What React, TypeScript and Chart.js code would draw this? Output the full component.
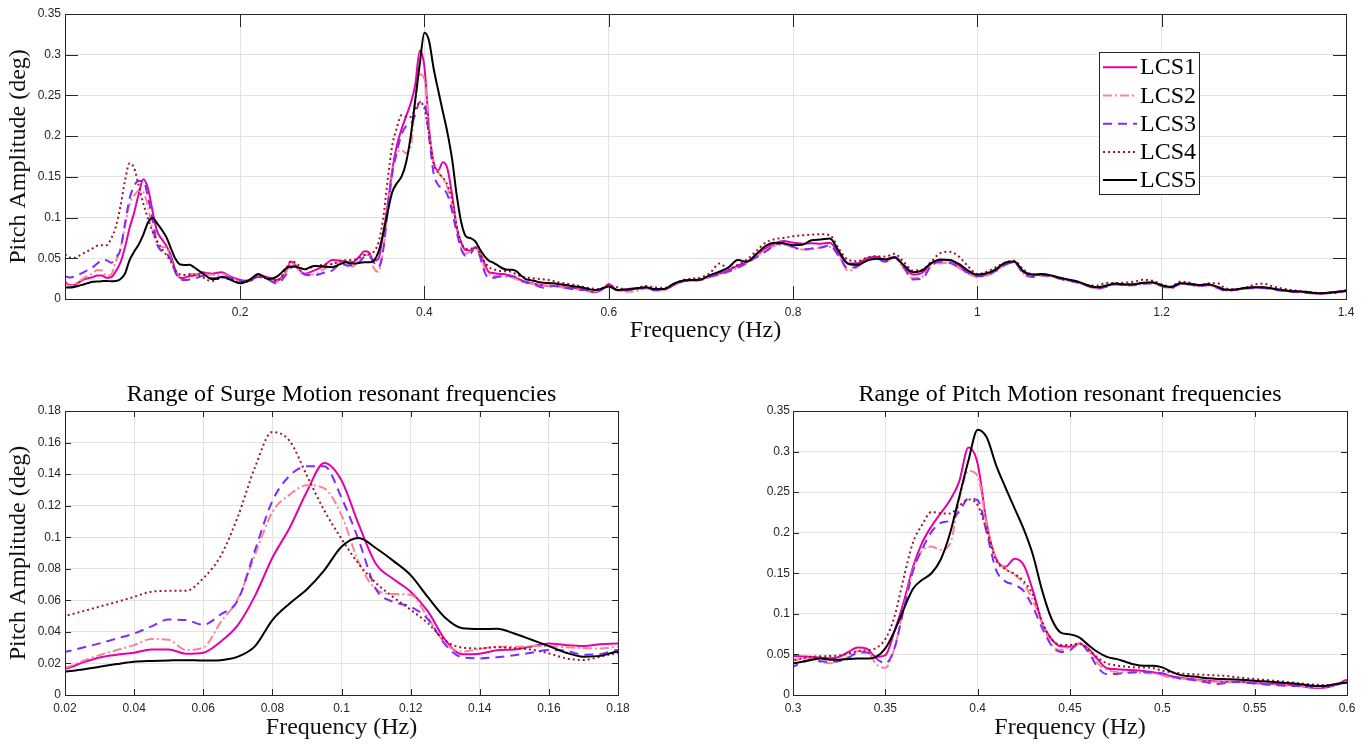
import React, { useEffect, useRef } from "react";
import { Chart, registerables } from "chart.js";

Chart.register(...registerables);

// ---------------- data ----------------
const FREQ = [
  0.01, 0.015,
  0.02, 0.025, 0.03, 0.035, 0.04, 0.045, 0.05, 0.055, 0.06, 0.065,
  0.07, 0.075, 0.08, 0.085, 0.09, 0.095, 0.1, 0.105, 0.11, 0.115,
  0.12, 0.125, 0.13, 0.135, 0.14, 0.145, 0.15, 0.155, 0.16, 0.165,
  0.17, 0.175, 0.18,
  0.19, 0.2, 0.21, 0.22, 0.23, 0.24, 0.25, 0.255, 0.26, 0.27, 0.28, 0.29,
  0.3, 0.305, 0.31, 0.315, 0.32, 0.325, 0.33, 0.335, 0.34, 0.345,
  0.35, 0.355, 0.36, 0.365, 0.37, 0.375, 0.38, 0.385, 0.39, 0.395,
  0.4, 0.405, 0.41, 0.415, 0.42, 0.425, 0.43, 0.435, 0.44, 0.445,
  0.45, 0.455, 0.46, 0.465, 0.47, 0.475, 0.48, 0.485, 0.49, 0.495,
  0.5, 0.505, 0.51, 0.515, 0.52, 0.525, 0.53, 0.535, 0.54, 0.545,
  0.55, 0.555, 0.56, 0.565, 0.57, 0.575, 0.58, 0.585, 0.59, 0.595,
  0.6,
  0.61, 0.62, 0.63, 0.64, 0.65, 0.66, 0.67, 0.68, 0.69, 0.7,
  0.71, 0.72, 0.73, 0.74, 0.75, 0.76, 0.77, 0.78, 0.79, 0.8,
  0.81, 0.82, 0.83, 0.84, 0.85, 0.86, 0.87, 0.88, 0.89, 0.9,
  0.91, 0.92, 0.93, 0.94, 0.95, 0.96, 0.97, 0.98, 0.99, 1.0,
  1.01, 1.02, 1.03, 1.04, 1.05, 1.06, 1.07, 1.08, 1.09, 1.1,
  1.11, 1.12, 1.13, 1.14, 1.15, 1.16, 1.17, 1.18, 1.19, 1.2,
  1.21, 1.22, 1.23, 1.24, 1.25, 1.26, 1.27, 1.28, 1.29, 1.3,
  1.31, 1.32, 1.33, 1.34, 1.35, 1.36, 1.37, 1.38, 1.39, 1.4,
];

const LCS1 = [
  0.021, 0.017,
  0.0169, 0.0205, 0.0238, 0.0255, 0.0268, 0.0288, 0.0289, 0.0262, 0.0268, 0.0338,
  0.0443, 0.063, 0.087, 0.106, 0.129, 0.147, 0.136, 0.108, 0.083, 0.0735,
  0.0655, 0.053, 0.035, 0.0258, 0.0262, 0.0283, 0.0289, 0.0308, 0.0327, 0.0316,
  0.031, 0.0322, 0.0327,
  0.0275, 0.0234, 0.0221, 0.0295, 0.0266, 0.0234, 0.0336, 0.046, 0.0418, 0.031, 0.0348, 0.04,
  0.048, 0.0475, 0.047, 0.0458, 0.0452, 0.047, 0.053, 0.0585, 0.057, 0.047,
  0.049, 0.079, 0.115, 0.158, 0.188, 0.208, 0.224, 0.24, 0.263, 0.305,
  0.285, 0.21, 0.168, 0.158, 0.168, 0.16, 0.128, 0.088, 0.069, 0.06,
  0.0595, 0.0635, 0.057, 0.044, 0.033, 0.0318, 0.031, 0.0306, 0.0295, 0.028,
  0.0255, 0.0232, 0.0212, 0.0198, 0.0185, 0.0175, 0.0166, 0.0164, 0.0164, 0.0158,
  0.0148, 0.0142, 0.0138, 0.0133, 0.0122, 0.011, 0.0092, 0.0085, 0.0098, 0.0135,
  0.0185,
  0.0105, 0.012, 0.0135, 0.0138, 0.0115, 0.012, 0.0175, 0.022, 0.023, 0.024,
  0.028, 0.031, 0.0355, 0.041, 0.0455, 0.0535, 0.062, 0.068, 0.0712, 0.069,
  0.068, 0.0685, 0.068, 0.069, 0.055, 0.0437, 0.044, 0.0498, 0.0518, 0.0486,
  0.0515, 0.041, 0.03, 0.032, 0.0437, 0.0478, 0.0475, 0.041, 0.033, 0.029,
  0.03, 0.0355, 0.043, 0.0455, 0.033, 0.029, 0.03, 0.0285, 0.0255, 0.023,
  0.0205, 0.0165, 0.0135, 0.016, 0.0185, 0.0175, 0.0178, 0.0198, 0.02, 0.0165,
  0.0142, 0.019, 0.0185, 0.0168, 0.0178, 0.0148, 0.011, 0.0115, 0.0133, 0.014,
  0.0142, 0.0125, 0.011, 0.0095, 0.0088, 0.0078, 0.0068, 0.0075, 0.0086, 0.0098,
];

const LCS2 = [
  0.019, 0.016,
  0.0173, 0.0215, 0.0253, 0.0285, 0.0316, 0.0355, 0.035, 0.0285, 0.03, 0.046,
  0.061, 0.089, 0.116, 0.127, 0.133, 0.131, 0.114, 0.084, 0.067, 0.064,
  0.0635, 0.049, 0.0327, 0.0275, 0.0292, 0.0306, 0.0306, 0.031, 0.031, 0.0302,
  0.0297, 0.0295, 0.0306,
  0.027, 0.021, 0.024, 0.028, 0.025, 0.021, 0.033, 0.045, 0.04, 0.03, 0.03, 0.036,
  0.043, 0.0445, 0.045, 0.041, 0.039, 0.042, 0.047, 0.054, 0.054, 0.038,
  0.0335, 0.058, 0.108, 0.155, 0.178, 0.183, 0.179, 0.186, 0.241, 0.276,
  0.27, 0.208, 0.168, 0.156, 0.148, 0.137, 0.116, 0.088, 0.062, 0.0555,
  0.0595, 0.0635, 0.055, 0.039, 0.031, 0.0285, 0.0278, 0.0275, 0.027, 0.0266,
  0.024, 0.0215, 0.0203, 0.019, 0.0178, 0.0168, 0.0164, 0.0164, 0.0162, 0.0153,
  0.0142, 0.0133, 0.0124, 0.0119, 0.0115, 0.0107, 0.0097, 0.0096, 0.011, 0.0135,
  0.0164,
  0.0105, 0.009, 0.0095, 0.013, 0.0115, 0.011, 0.016, 0.0215, 0.0225, 0.0232,
  0.027, 0.03, 0.0335, 0.038, 0.044, 0.052, 0.06, 0.0655, 0.0665, 0.0633,
  0.0608, 0.061, 0.0633, 0.064, 0.052, 0.0345, 0.0396, 0.0478, 0.049, 0.0465,
  0.0502, 0.038, 0.0255, 0.0273, 0.0416, 0.0437, 0.0445, 0.038, 0.031, 0.0273,
  0.0285, 0.034, 0.042, 0.0445, 0.031, 0.028, 0.0295, 0.028, 0.025, 0.0225,
  0.02, 0.016, 0.0128, 0.0155, 0.018, 0.017, 0.0172, 0.019, 0.0192, 0.016,
  0.0135, 0.0185, 0.018, 0.016, 0.0172, 0.014, 0.0105, 0.011, 0.0128, 0.0135,
  0.0138, 0.012, 0.0105, 0.009, 0.0085, 0.0075, 0.0068, 0.0072, 0.0085, 0.0095,
];

const LCS3 = [
  0.028, 0.0265,
  0.0274, 0.03, 0.0327, 0.0358, 0.039, 0.0435, 0.0478, 0.0475, 0.0445, 0.051,
  0.06, 0.092, 0.123, 0.139, 0.145, 0.145, 0.125, 0.098, 0.067, 0.059,
  0.056, 0.048, 0.032, 0.0238, 0.0232, 0.024, 0.0252, 0.0268, 0.0285, 0.028,
  0.0255, 0.026, 0.0285,
  0.026, 0.022, 0.023, 0.027, 0.024, 0.019, 0.03, 0.038, 0.04, 0.03, 0.029, 0.032,
  0.035, 0.04, 0.043, 0.0415, 0.041, 0.042, 0.046, 0.052, 0.0525, 0.045,
  0.039, 0.058, 0.106, 0.153, 0.18, 0.201, 0.212, 0.2148, 0.226, 0.242,
  0.24, 0.199, 0.154, 0.14, 0.1358, 0.128, 0.108, 0.082, 0.061, 0.053,
  0.0554, 0.0632, 0.053, 0.034, 0.0258, 0.026, 0.0273, 0.028, 0.0285, 0.028,
  0.0267, 0.023, 0.0203, 0.019, 0.0172, 0.015, 0.0135, 0.015, 0.016, 0.0152,
  0.0143, 0.0133, 0.0123, 0.0117, 0.0111, 0.0111, 0.0111, 0.0111, 0.0111, 0.013,
  0.0164,
  0.0105, 0.011, 0.0125, 0.0135, 0.0105, 0.0112, 0.0168, 0.0215, 0.0225, 0.0235,
  0.0275, 0.03, 0.034, 0.0385, 0.0445, 0.051, 0.058, 0.066, 0.069, 0.064,
  0.0608, 0.062, 0.0633, 0.066, 0.052, 0.0376, 0.0405, 0.048, 0.05, 0.0457,
  0.052, 0.039, 0.024, 0.025, 0.041, 0.0457, 0.0445, 0.039, 0.032, 0.028,
  0.029, 0.0345, 0.042, 0.045, 0.031, 0.027, 0.029, 0.028, 0.0248, 0.0222,
  0.0198, 0.0158, 0.0125, 0.015, 0.018, 0.0168, 0.017, 0.0188, 0.0192, 0.0158,
  0.013, 0.0182, 0.0178, 0.0158, 0.017, 0.0138, 0.0102, 0.011, 0.0128, 0.0132,
  0.0135, 0.0118, 0.0102, 0.0088, 0.0083, 0.0072, 0.0065, 0.007, 0.0082, 0.0095,
];

const LCS4 = [
  0.055, 0.051,
  0.0506, 0.053, 0.056, 0.059, 0.0622, 0.0655, 0.066, 0.066, 0.074, 0.088,
  0.113, 0.1445, 0.1667, 0.161, 0.139, 0.117, 0.099, 0.083, 0.071, 0.062,
  0.054, 0.0455, 0.0345, 0.03, 0.0295, 0.0303, 0.0297, 0.0287, 0.0264, 0.0232,
  0.0222, 0.0243, 0.0264,
  0.024, 0.021, 0.022, 0.028, 0.025, 0.022, 0.038, 0.046, 0.045, 0.036, 0.04, 0.042,
  0.043, 0.045, 0.047, 0.0477, 0.048, 0.0487, 0.051, 0.054, 0.055, 0.058,
  0.069, 0.097, 0.145, 0.188, 0.21, 0.2256, 0.224, 0.2236, 0.233, 0.241,
  0.234, 0.202, 0.166, 0.155, 0.149, 0.14, 0.123, 0.09, 0.069, 0.0615,
  0.0616, 0.0635, 0.056, 0.046, 0.039, 0.0365, 0.035, 0.034, 0.034, 0.0332,
  0.03, 0.028, 0.0265, 0.0258, 0.0252, 0.0245, 0.024, 0.0234, 0.022, 0.0207,
  0.0196, 0.0187, 0.0177, 0.0167, 0.0155, 0.0143, 0.0132, 0.0126, 0.0123, 0.014,
  0.0164,
  0.0143, 0.011, 0.013, 0.016, 0.0145, 0.0135, 0.018, 0.0232, 0.025, 0.0265,
  0.032, 0.0435, 0.0378, 0.042, 0.0485, 0.059, 0.069, 0.0735, 0.075, 0.0771,
  0.0782, 0.079, 0.0796, 0.0784, 0.061, 0.048, 0.0465, 0.051, 0.0525, 0.052,
  0.0555, 0.0457, 0.035, 0.036, 0.046, 0.0565, 0.058, 0.052, 0.04, 0.0305,
  0.0336, 0.039, 0.0447, 0.047, 0.036, 0.03, 0.0295, 0.0285, 0.025, 0.0228,
  0.0205, 0.017, 0.0165, 0.0198, 0.0195, 0.02, 0.0213, 0.0235, 0.0225, 0.018,
  0.0152, 0.0213, 0.0202, 0.0165, 0.019, 0.0195, 0.0128, 0.0119, 0.0135, 0.0175,
  0.019, 0.0155, 0.013, 0.0111, 0.0098, 0.0088, 0.0075, 0.0072, 0.0078, 0.011,
];

const LCS5 = [
  0.0143, 0.0142,
  0.0148, 0.0162, 0.0179, 0.0196, 0.0211, 0.0216, 0.0219, 0.0221, 0.0218, 0.0221,
  0.0243, 0.031, 0.0475, 0.058, 0.067, 0.079, 0.094, 0.0995, 0.093, 0.085,
  0.076, 0.062, 0.049, 0.0423, 0.0418, 0.042, 0.039, 0.035, 0.031, 0.0268,
  0.0243, 0.0248, 0.0274,
  0.0234, 0.0193, 0.0234, 0.0307, 0.0245, 0.0275, 0.0377, 0.04, 0.0398, 0.0365, 0.0406, 0.04,
  0.039, 0.041, 0.0435, 0.045, 0.0435, 0.0435, 0.0445, 0.045, 0.045, 0.047,
  0.0574, 0.079, 0.106, 0.131, 0.142, 0.15, 0.167, 0.199, 0.244, 0.289,
  0.327, 0.317, 0.283, 0.256, 0.23, 0.204, 0.172, 0.128, 0.094, 0.077,
  0.0747, 0.071, 0.0615, 0.053, 0.047, 0.0445, 0.041, 0.0375, 0.036, 0.036,
  0.034, 0.0285, 0.0245, 0.0232, 0.022, 0.0205, 0.0198, 0.0195, 0.0192, 0.0185,
  0.0176, 0.0168, 0.016, 0.0152, 0.0145, 0.0133, 0.0118, 0.0111, 0.0118, 0.0138,
  0.0152,
  0.011, 0.0118, 0.013, 0.0143, 0.0122, 0.0122, 0.0184, 0.0224, 0.0233, 0.024,
  0.0294, 0.0335, 0.0388, 0.048, 0.0457, 0.0551, 0.0649, 0.069, 0.0682, 0.0661,
  0.0665, 0.0722, 0.073, 0.0743, 0.058, 0.043, 0.042, 0.047, 0.0495, 0.0485,
  0.051, 0.0416, 0.033, 0.035, 0.044, 0.0484, 0.048, 0.043, 0.035, 0.03,
  0.0316, 0.0365, 0.0445, 0.046, 0.034, 0.03, 0.0307, 0.029, 0.026, 0.0236,
  0.021, 0.0168, 0.0143, 0.0165, 0.019, 0.0178, 0.018, 0.02, 0.0205, 0.017,
  0.0147, 0.0193, 0.0188, 0.0172, 0.018, 0.0152, 0.0113, 0.0118, 0.0135, 0.0143,
  0.0143, 0.0128, 0.0112, 0.0098, 0.0092, 0.0082, 0.007, 0.0077, 0.0088, 0.0098,
];

const SERIES_NAMES = ["LCS1", "LCS2", "LCS3", "LCS4", "LCS5"];
const SERIES_VALUES = [LCS1, LCS2, LCS3, LCS4, LCS5];

const TOP_X_TICKS = [0.2, 0.4, 0.6, 0.8, 1, 1.2, 1.4];
const TOP_Y_TICKS = [0, 0.05, 0.1, 0.15, 0.2, 0.25, 0.3, 0.35];
const SURGE_X_TICKS = [0.02, 0.04, 0.06, 0.08, 0.1, 0.12, 0.14, 0.16, 0.18];
const SURGE_Y_TICKS = [0, 0.02, 0.04, 0.06, 0.08, 0.1, 0.12, 0.14, 0.16, 0.18];
const PITCH_X_TICKS = [0.3, 0.35, 0.4, 0.45, 0.5, 0.55, 0.6];
const PITCH_Y_TICKS = [0, 0.05, 0.1, 0.15, 0.2, 0.25, 0.3, 0.35];

const X_TITLE = "Frequency (Hz)";
const Y_TITLE = "Pitch Amplitude (deg)";
const SURGE_TITLE = "Range of Surge Motion resonant frequencies";
const PITCH_TITLE = "Range of Pitch Motion resonant frequencies";

// ---------------- styles ----------------
const SERIES_COLORS = ["#e500aa", "#ff8290", "#7f2bff", "#a0142f", "#000000"];
const SERIES_DASH: number[][] = [[], [9, 3, 2, 3], [9, 6], [2, 3], []];
const AXIS_COLOR = "#262626";
const GRID_COLOR = "#e2e2e2";
const SERIF = "'Liberation Serif', 'Times New Roman', serif";
const SANS = "'Liberation Sans', Arial, sans-serif";

const fmt = (v: number) => String(+Number(v).toFixed(4));

function makeDatasets() {
  return SERIES_VALUES.map((vals, i) => ({
    label: SERIES_NAMES[i],
    data: FREQ.map((f, k) => ({ x: f, y: vals[k] })),
    borderColor: SERIES_COLORS[i],
    backgroundColor: SERIES_COLORS[i],
    borderWidth: 2,
    borderDash: SERIES_DASH[i],
    pointRadius: 0,
    cubicInterpolationMode: "monotone" as const,
    fill: false,
    order: 4 - i,
  }));
}

function boxPlugin(tickLen: number) {
  return {
    id: "matlabBox",
    afterDatasetsDraw(chart: any) {
      const { ctx, chartArea: a, scales } = chart;
      const xs = scales.x;
      const ys = scales.y;
      ctx.save();
      ctx.strokeStyle = AXIS_COLOR;
      ctx.lineWidth = 1;
      ctx.beginPath();
      for (const t of xs.ticks) {
        const px = Math.round(xs.getPixelForValue(t.value)) + 0.5;
        ctx.moveTo(px, a.bottom);
        ctx.lineTo(px, a.bottom - tickLen);
        ctx.moveTo(px, a.top);
        ctx.lineTo(px, a.top + tickLen);
      }
      for (const t of ys.ticks) {
        const py = Math.round(ys.getPixelForValue(t.value)) + 0.5;
        ctx.moveTo(a.left, py);
        ctx.lineTo(a.left + tickLen, py);
        ctx.moveTo(a.right, py);
        ctx.lineTo(a.right - tickLen, py);
      }
      ctx.stroke();
      ctx.strokeRect(
        Math.round(a.left) + 0.5,
        Math.round(a.top) + 0.5,
        Math.round(a.right) - Math.round(a.left),
        Math.round(a.bottom) - Math.round(a.top)
      );
      ctx.restore();
    },
  };
}

function titlePlugin(text: string) {
  return {
    id: "axTitle",
    afterDraw(chart: any) {
      const { ctx, chartArea: a } = chart;
      ctx.save();
      ctx.fillStyle = "#000";
      ctx.font = `24px ${SERIF}`;
      ctx.textAlign = "center";
      ctx.textBaseline = "alphabetic";
      ctx.fillText(text, (a.left + a.right) / 2, a.top - 10);
      ctx.restore();
    },
  };
}

function legendPlugin(x0: number, y0: number, w: number, h: number, row0: number, step: number) {
  return {
    id: "boxLegend",
    afterDraw(chart: any) {
      const ctx = chart.ctx;
      ctx.save();
      ctx.fillStyle = "#ffffff";
      ctx.fillRect(x0, y0, w, h);
      ctx.strokeStyle = AXIS_COLOR;
      ctx.lineWidth = 1;
      ctx.strokeRect(x0 + 0.5, y0 + 0.5, w, h);
      chart.data.datasets.forEach((ds: any, i: number) => {
        const yy = row0 + i * step;
        ctx.strokeStyle = ds.borderColor;
        ctx.lineWidth = ds.borderWidth;
        ctx.setLineDash(ds.borderDash || []);
        ctx.beginPath();
        ctx.moveTo(x0 + 4, yy);
        ctx.lineTo(x0 + 38, yy);
        ctx.stroke();
        ctx.setLineDash([]);
        ctx.fillStyle = "#000";
        ctx.font = `24px ${SERIF}`;
        ctx.textAlign = "left";
        ctx.textBaseline = "alphabetic";
        ctx.fillText(ds.label, x0 + 41, yy + 7);
      });
      ctx.restore();
    },
  };
}

type Cfg = {
  xMin: number;
  xMax: number;
  yMax: number;
  xTicks: number[];
  yTicks: number[];
  padding: { top: number; right: number; bottom: number; left: number };
  yWidth: number;
  xHeight: number;
  xTitlePad: number;
  yTitle: boolean;
  yLabelPad: number;
  extraPlugins: any[];
};

function makeConfig(c: Cfg): any {
  return {
    type: "line",
    data: { datasets: makeDatasets() },
    options: {
      responsive: false,
      maintainAspectRatio: false,
      animation: false,
      devicePixelRatio: 1,
      events: [],
      layout: { padding: c.padding },
      plugins: {
        legend: { display: false },
        title: { display: false },
        tooltip: { enabled: false },
      },
      scales: {
        x: {
          type: "linear",
          min: c.xMin,
          max: c.xMax,
          afterBuildTicks: (s: any) => {
            s.ticks = c.xTicks.map((v) => ({ value: v }));
          },
          afterFit: (s: any) => {
            s.height = c.xHeight;
          },
          grid: { color: GRID_COLOR, lineWidth: 1, drawTicks: false },
          border: { display: false },
          ticks: {
            autoSkip: false,
            maxRotation: 0,
            padding: 6,
            color: AXIS_COLOR,
            font: { family: SANS, size: 12 },
            callback: (v: any) => fmt(v),
          },
          title: {
            display: true,
            text: X_TITLE,
            color: "#111",
            font: { family: SERIF, size: 24, lineHeight: 1.2 },
            padding: { top: 0, bottom: c.xTitlePad },
          },
        },
        y: {
          type: "linear",
          min: 0,
          max: c.yMax,
          afterBuildTicks: (s: any) => {
            s.ticks = c.yTicks.map((v) => ({ value: v }));
          },
          afterFit: (s: any) => {
            s.width = c.yWidth;
          },
          grid: { color: GRID_COLOR, lineWidth: 1, drawTicks: false },
          border: { display: false },
          ticks: {
            autoSkip: false,
            padding: c.yLabelPad,
            color: AXIS_COLOR,
            font: { family: SANS, size: 12 },
            callback: (v: any) => fmt(v),
          },
          title: {
            display: c.yTitle,
            text: Y_TITLE,
            color: "#111",
            font: { family: SERIF, size: 24, lineHeight: 1.2 },
            padding: { top: 4, bottom: 0 },
          },
        },
      },
    },
    plugins: c.extraPlugins,
  };
}

function PlotCanvas(props: { left: number; top: number; width: number; height: number; cfg: () => any }) {
  const ref = useRef<HTMLCanvasElement>(null);
  useEffect(() => {
    const chart = new Chart(ref.current as HTMLCanvasElement, props.cfg());
    return () => chart.destroy();
  }, []);
  return (
    <div style={{ position: "absolute", left: props.left, top: props.top, width: props.width, height: props.height }}>
      <canvas
        ref={ref}
        width={props.width}
        height={props.height}
        style={{ width: props.width, height: props.height, display: "block" }}
      />
    </div>
  );
}

export default function App() {
  return (
    <div style={{ position: "absolute", left: 0, top: 0, width: 1369, height: 744, background: "#fff" }}>
      <PlotCanvas
        left={0}
        top={0}
        width={1369}
        height={350}
        cfg={() =>
          makeConfig({
            xMin: 0.01,
            xMax: 1.4,
            yMax: 0.35,
            xTicks: TOP_X_TICKS,
            yTicks: TOP_Y_TICKS,
            padding: { top: 14, right: 23, bottom: 0, left: 0 },
            yWidth: 65,
            xHeight: 51,
            xTitlePad: 4.6,
            yTitle: true,
            yLabelPad: 4,
            extraPlugins: [boxPlugin(13), legendPlugin(1099, 52, 100, 142, 67.3, 28.2)],
          })
        }
      />
      <PlotCanvas
        left={0}
        top={370}
        width={683}
        height={374}
        cfg={() =>
          makeConfig({
            xMin: 0.02,
            xMax: 0.18,
            yMax: 0.18,
            xTicks: SURGE_X_TICKS,
            yTicks: SURGE_Y_TICKS,
            padding: { top: 41, right: 65, bottom: 0, left: 0 },
            yWidth: 65,
            xHeight: 49,
            xTitlePad: 2.2,
            yTitle: true,
            yLabelPad: 4,
            extraPlugins: [boxPlugin(6), titlePlugin(SURGE_TITLE)],
          })
        }
      />
      <PlotCanvas
        left={700}
        top={370}
        width={669}
        height={374}
        cfg={() =>
          makeConfig({
            xMin: 0.3,
            xMax: 0.6,
            yMax: 0.35,
            xTicks: PITCH_X_TICKS,
            yTicks: PITCH_Y_TICKS,
            padding: { top: 41, right: 22, bottom: 0, left: 0 },
            yWidth: 93,
            xHeight: 49,
            xTitlePad: 2.2,
            yTitle: false,
            yLabelPad: 3,
            extraPlugins: [boxPlugin(6), titlePlugin(PITCH_TITLE)],
          })
        }
      />
    </div>
  );
}
